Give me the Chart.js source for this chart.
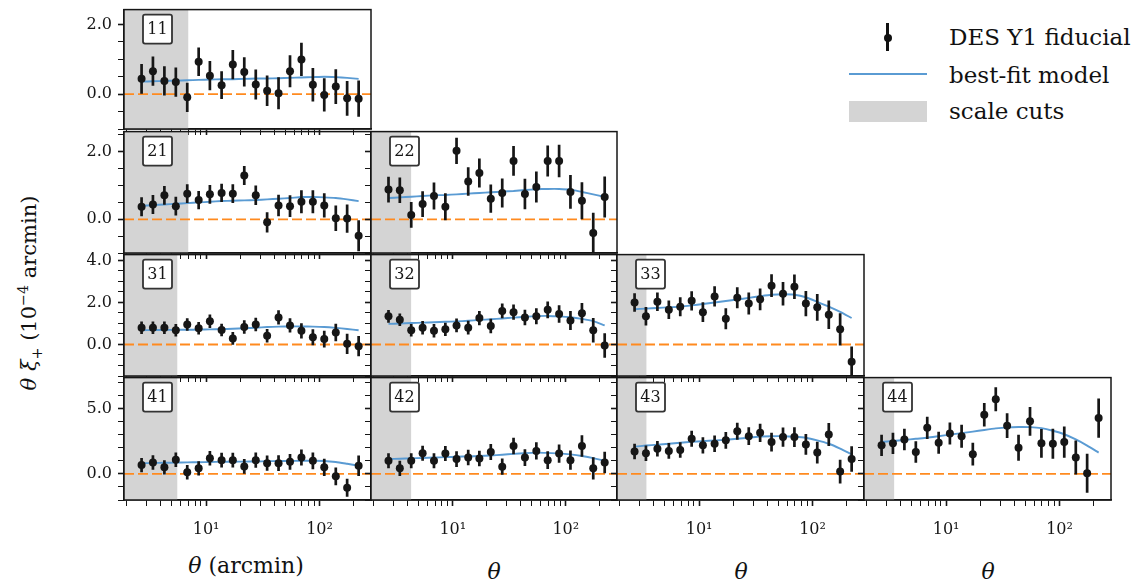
<!DOCTYPE html>
<html lang="en">
<head>
<meta charset="UTF-8">
<title>DES Y1 xi+ tomography</title>
<script src="https://cdn.jsdelivr.net/npm/chart.js"></script>
<style>
  body { margin: 0; background: #fff; }
  #fig { position: relative; width: 1138px; height: 588px; overflow: hidden; font-family: "DejaVu Serif", serif; color: #111; }
  #fig canvas { position: absolute; }
  .txt { position: absolute; white-space: nowrap; }
  .leg { font-size: 23px; height: 26px; line-height: 26px; }
  .xt { font-size: 22px; transform: translateX(-50%); }
  #ylab { font-size: 21px; left: 30px; top: 293px; transform: translate(-50%, -50%) rotate(-90deg); }
  sub, sup { font-size: 0.68em; }
</style>
</head>
<body>
<div id="fig">
  <div class="txt" style="left:886px;top:23px;width:2.8px;height:28px;background:#111"></div>
  <div class="txt" style="left:883.5px;top:34px;width:8px;height:8px;border-radius:50%;background:#111"></div>
  <div class="txt leg" style="left:949px;top:24px">DES Y1 fiducial</div>
  <div class="txt" style="left:849px;top:73px;width:78px;height:2.2px;background:#5a9bd3"></div>
  <div class="txt leg" style="left:949px;top:62px">best-fit model</div>
  <div class="txt" style="left:849px;top:101px;width:78px;height:21px;background:#d4d4d4"></div>
  <div class="txt leg" style="left:949px;top:98px">scale cuts</div>
  <div class="txt" id="ylab"><i>θ</i> <i>ξ</i><sub>+</sub> (10<sup>−4</sup> arcmin)</div>
  <div class="txt xt" style="left:246px;top:553px"><i>θ</i> (arcmin)</div>
  <div class="txt xt" style="left:494px;top:559px"><i>θ</i></div>
  <div class="txt xt" style="left:741px;top:559px"><i>θ</i></div>
  <div class="txt xt" style="left:988px;top:559px"><i>θ</i></div>
</div>
<script>
// angular bins (arcmin), same for every panel
const theta = [2.70, 3.40, 4.29, 5.41, 6.82, 8.60, 10.8, 13.7, 17.2, 21.7, 27.4, 34.5, 43.5, 54.9, 69.2, 87.3, 110, 139, 175, 221];

const xi11 = [0.44, 0.66, 0.38, 0.35, -0.09, 0.93, 0.53, 0.26, 0.85, 0.64, 0.28, 0.10, 0.03, 0.66, 1.00, 0.27, -0.02, 0.22, -0.12, -0.13];
const err11 = [0.43, 0.42, 0.42, 0.42, 0.42, 0.41, 0.42, 0.40, 0.42, 0.42, 0.43, 0.44, 0.46, 0.46, 0.48, 0.48, 0.48, 0.50, 0.50, 0.52];
const model11 = [0.36, 0.37, 0.38, 0.39, 0.40, 0.41, 0.42, 0.43, 0.43, 0.44, 0.45, 0.45, 0.46, 0.47, 0.48, 0.49, 0.50, 0.49, 0.47, 0.44];

const xi21 = [0.37, 0.44, 0.71, 0.39, 0.76, 0.57, 0.74, 0.78, 0.76, 1.30, 0.71, -0.09, 0.41, 0.39, 0.52, 0.52, 0.41, 0.03, 0.02, -0.49];
const err21 = [0.28, 0.28, 0.28, 0.28, 0.28, 0.27, 0.28, 0.27, 0.28, 0.28, 0.29, 0.30, 0.32, 0.32, 0.34, 0.34, 0.36, 0.38, 0.42, 0.46];
const model21 = [0.40, 0.42, 0.44, 0.46, 0.48, 0.50, 0.52, 0.54, 0.55, 0.56, 0.57, 0.59, 0.61, 0.63, 0.66, 0.66, 0.65, 0.63, 0.59, 0.54];

const xi22 = [0.88, 0.86, 0.13, 0.45, 0.69, 0.37, 2.03, 1.12, 1.37, 0.61, 0.78, 1.73, 0.75, 0.96, 1.73, 1.73, 0.81, 0.55, -0.41, 0.66];
const err22 = [0.38, 0.38, 0.38, 0.38, 0.40, 0.40, 0.39, 0.42, 0.43, 0.42, 0.43, 0.44, 0.45, 0.46, 0.46, 0.48, 0.50, 0.55, 0.60, 0.61];
const model22 = [0.63, 0.65, 0.67, 0.69, 0.71, 0.72, 0.74, 0.76, 0.78, 0.80, 0.82, 0.84, 0.87, 0.89, 0.90, 0.90, 0.88, 0.81, 0.74, 0.66];

const xi31 = [0.80, 0.80, 0.80, 0.68, 0.95, 0.77, 1.11, 0.69, 0.29, 0.83, 0.95, 0.42, 1.29, 0.91, 0.65, 0.34, 0.26, 0.57, 0.03, -0.08];
const err31 = [0.30, 0.30, 0.30, 0.30, 0.30, 0.30, 0.32, 0.30, 0.30, 0.32, 0.32, 0.32, 0.34, 0.34, 0.36, 0.38, 0.40, 0.42, 0.48, 0.48];
const model31 = [0.68, 0.69, 0.69, 0.70, 0.70, 0.71, 0.72, 0.73, 0.75, 0.77, 0.80, 0.83, 0.85, 0.86, 0.86, 0.85, 0.83, 0.79, 0.74, 0.68];

const xi32 = [1.34, 1.18, 0.68, 0.80, 0.65, 0.72, 0.91, 0.80, 1.26, 0.88, 1.60, 1.54, 1.29, 1.34, 1.65, 1.45, 1.14, 1.49, 0.68, -0.05];
const err32 = [0.30, 0.30, 0.30, 0.32, 0.32, 0.32, 0.33, 0.33, 0.34, 0.34, 0.35, 0.36, 0.37, 0.38, 0.40, 0.42, 0.45, 0.48, 0.58, 0.58];
const model32 = [0.98, 1.00, 1.02, 1.04, 1.06, 1.08, 1.10, 1.13, 1.17, 1.20, 1.24, 1.28, 1.32, 1.35, 1.36, 1.34, 1.30, 1.22, 1.11, 0.91];

const xi33 = [2.00, 1.34, 2.03, 1.65, 1.80, 2.08, 1.54, 2.29, 1.22, 2.23, 1.95, 2.15, 2.80, 2.42, 2.75, 1.95, 1.77, 1.42, 0.72, -0.82];
const err33 = [0.44, 0.44, 0.44, 0.44, 0.45, 0.46, 0.47, 0.48, 0.50, 0.50, 0.52, 0.52, 0.54, 0.56, 0.58, 0.60, 0.64, 0.68, 0.77, 0.73];
const model33 = [1.68, 1.71, 1.74, 1.77, 1.80, 1.86, 1.93, 2.00, 2.07, 2.14, 2.22, 2.30, 2.37, 2.39, 2.37, 2.25, 2.03, 1.80, 1.55, 1.26];

const xi41 = [0.68, 0.88, 0.51, 1.09, 0.13, 0.43, 1.21, 1.06, 1.06, 0.58, 1.06, 0.83, 0.83, 0.93, 1.26, 1.01, 0.51, -0.18, -1.06, 0.63];
const err41 = [0.55, 0.55, 0.55, 0.55, 0.55, 0.55, 0.56, 0.56, 0.57, 0.57, 0.58, 0.58, 0.60, 0.60, 0.62, 0.64, 0.66, 0.68, 0.70, 0.78];
const model41 = [0.83, 0.84, 0.86, 0.87, 0.89, 0.90, 0.92, 0.93, 0.94, 0.95, 0.96, 0.98, 0.99, 1.00, 1.01, 1.01, 1.00, 0.92, 0.78, 0.63];

const xi42 = [1.01, 0.43, 1.01, 1.59, 1.01, 1.57, 1.14, 1.26, 1.19, 1.69, 0.56, 2.15, 1.26, 1.77, 1.06, 1.57, 1.06, 2.15, 0.43, 0.88];
const err42 = [0.58, 0.58, 0.58, 0.58, 0.58, 0.58, 0.60, 0.60, 0.60, 0.62, 0.62, 0.64, 0.64, 0.66, 0.68, 0.70, 0.74, 0.82, 0.85, 0.82];
const model42 = [1.14, 1.17, 1.20, 1.23, 1.26, 1.29, 1.32, 1.35, 1.38, 1.42, 1.48, 1.54, 1.60, 1.64, 1.62, 1.58, 1.50, 1.38, 1.22, 1.01];

const xi43 = [1.72, 1.59, 1.94, 1.77, 1.84, 2.70, 2.20, 2.32, 2.58, 3.28, 2.90, 3.16, 2.45, 2.83, 2.83, 2.27, 1.64, 3.03, 0.18, 1.14];
const err43 = [0.60, 0.60, 0.60, 0.60, 0.60, 0.62, 0.62, 0.64, 0.64, 0.66, 0.68, 0.70, 0.72, 0.74, 0.76, 0.80, 0.84, 0.88, 0.92, 0.98];
const model43 = [2.10, 2.18, 2.25, 2.32, 2.40, 2.46, 2.52, 2.57, 2.63, 2.70, 2.78, 2.88, 2.90, 2.90, 2.86, 2.78, 2.58, 2.32, 1.95, 1.52];

const xi44 = [2.20, 2.35, 2.65, 1.69, 3.54, 2.40, 3.11, 2.90, 1.52, 4.55, 5.73, 3.71, 2.02, 4.04, 2.35, 2.32, 2.45, 1.26, 0.05, 4.29];
const err44 = [0.82, 0.82, 0.82, 0.82, 0.85, 0.85, 0.85, 0.88, 0.88, 0.90, 0.92, 0.95, 1.00, 1.10, 1.10, 1.15, 1.20, 1.30, 1.50, 1.50];
const model44 = [2.45, 2.53, 2.61, 2.70, 2.78, 2.90, 3.02, 3.14, 3.25, 3.38, 3.50, 3.58, 3.61, 3.60, 3.52, 3.32, 3.05, 2.65, 2.18, 1.64];

// upper end of the grey scale-cut band in each panel (arcmin)
const panelIds = ['11', '21', '22', '31', '32', '33', '41', '42', '43', '44'];
const scaleCuts = [7.0, 7.0, 4.3, 5.6, 4.3, 3.45, 5.6, 4.3, 3.45, 3.5];

// axes
const X_MIN = 1.89, X_MAX = 284;
const xTickValues = [2, 3, 4, 5, 6, 7, 8, 9, 10, 20, 30, 40, 50, 60, 70, 80, 90, 100, 200];
const xMajorValues = [10, 100];
const xMajorLabels = ['10¹', '10²'];

const rowYMin = [-1.0, -1.0, -1.5, -2.0];
const rowYMax = [2.43, 2.6, 4.28, 7.4];
const rowYTicks = [
  [-1, -0.5, 0, 0.5, 1, 1.5, 2],
  [-1, -0.5, 0, 0.5, 1, 1.5, 2, 2.5],
  [-1.5, -1, -0.5, 0, 0.5, 1, 1.5, 2, 2.5, 3, 3.5, 4],
  [-2, -1, 0, 1, 2, 3, 4, 5, 6, 7]
];
const rowYLabelled = [[0, 2], [0, 2], [0, 2, 4], [0, 5]];

const seriesById = {
  '11': [xi11, err11, model11], '21': [xi21, err21, model21], '22': [xi22, err22, model22],
  '31': [xi31, err31, model31], '32': [xi32, err32, model32], '33': [xi33, err33, model33],
  '41': [xi41, err41, model41], '42': [xi42, err42, model42], '43': [xi43, err43, model43],
  '44': [xi44, err44, model44]
};

// page layout of the panel frames
const colLeft = [124, 371, 617, 864];
const colWidth = [247, 246, 247, 247];
const rowTop = [8, 130, 253, 376];
const rowHeight = [121, 123, 123, 124];
const PAD_L = 50, PAD_B = 45, PAD_T = 14, PAD_R = 14;

const INK = '#161616';
const BLUE = '#5a9bd3';
const ORANGE = '#ff8a1f';
const GREY = '#d4d4d4';
const tickFont = { family: 'DejaVu Serif', size: 16 };

const panelFrame = {
  id: 'panelFrame',
  afterDraw(chart, args, opts) {
    const { ctx, chartArea: a } = chart;
    ctx.save();
    ctx.strokeStyle = INK;
    ctx.lineWidth = 1.5;
    ctx.strokeRect(a.left, a.top, a.right - a.left, a.bottom - a.top);
    const bx = a.left + 19, by = a.top + 5, bs = 29;
    ctx.fillStyle = '#fff';
    ctx.beginPath();
    ctx.roundRect(bx, by, bs, bs, 2);
    ctx.fill();
    ctx.lineWidth = 1.8;
    ctx.strokeStyle = '#333';
    ctx.stroke();
    ctx.fillStyle = INK;
    ctx.font = '16px "DejaVu Serif"';
    ctx.textAlign = 'center';
    ctx.textBaseline = 'middle';
    ctx.fillText(opts.label, bx + bs / 2, by + bs / 2 + 1);
    ctx.restore();
  }
};

const fig = document.getElementById('fig');

panelIds.forEach((id, k) => {
  const row = Number(id[0]) - 1;
  const col = Number(id[1]) - 1;
  const [xi, err, model] = seriesById[id];
  const yMin = rowYMin[row], yMax = rowYMax[row];

  const canvas = document.createElement('canvas');
  canvas.width = PAD_L + colWidth[col] + PAD_R;
  canvas.height = PAD_T + rowHeight[row] + PAD_B;
  canvas.style.left = (colLeft[col] - PAD_L) + 'px';
  canvas.style.top = (rowTop[row] - PAD_T) + 'px';
  fig.appendChild(canvas);

  const errorBars = [];
  theta.forEach((t, i) => {
    errorBars.push({ x: t, y: xi[i] - err[i] }, { x: t, y: xi[i] + err[i] }, { x: t, y: null });
  });

  new Chart(canvas, {
    type: 'scatter',
    data: {
      datasets: [
        {
          type: 'line', order: 10,
          data: [{ x: X_MIN, y: yMax }, { x: scaleCuts[k], y: yMax }],
          fill: 'start', backgroundColor: GREY, borderWidth: 0, pointRadius: 0
        },
        {
          type: 'line', order: 5,
          data: [{ x: X_MIN, y: 0 }, { x: X_MAX, y: 0 }],
          borderColor: ORANGE, borderWidth: 1.8, borderDash: [10, 4], pointRadius: 0
        },
        {
          type: 'line', order: 3,
          data: theta.map((t, i) => ({ x: t, y: model[i] })),
          borderColor: BLUE, borderWidth: 1.9, pointRadius: 0, tension: 0.2
        },
        {
          type: 'line', order: 2,
          data: errorBars, spanGaps: false,
          borderColor: INK, borderWidth: 2.7, pointRadius: 0
        },
        {
          type: 'scatter', order: 1,
          data: theta.map((t, i) => ({ x: t, y: xi[i] })),
          backgroundColor: INK, borderWidth: 0, pointRadius: 4
        }
      ]
    },
    options: {
      responsive: false,
      animation: false,
      events: [],
      layout: { padding: { top: PAD_T, right: PAD_R, left: 0, bottom: 0 } },
      plugins: { legend: { display: false }, tooltip: { enabled: false }, panelFrame: { label: id } },
      scales: {
        x: {
          type: 'logarithmic', min: X_MIN, max: X_MAX,
          afterBuildTicks: s => { s.ticks = xTickValues.map(v => ({ value: v })); },
          afterFit: s => { s.height = PAD_B; },
          ticks: {
            autoSkip: false, maxRotation: 0, padding: 14, color: INK, font: tickFont,
            callback: v => (row === 3 && xMajorValues.includes(v)) ? xMajorLabels[xMajorValues.indexOf(v)] : ''
          },
          grid: { drawOnChartArea: false, tickLength: 6, tickColor: INK,
                  tickWidth: c => xMajorValues.includes(c.tick && c.tick.value) ? 1.6 : 1 },
          border: { display: true, color: INK, width: 1.5 }
        },
        y: {
          type: 'linear', min: yMin, max: yMax,
          afterBuildTicks: s => { s.ticks = rowYTicks[row].map(v => ({ value: v })); },
          afterFit: s => { s.width = PAD_L; },
          ticks: {
            autoSkip: false, padding: 6, color: INK, font: tickFont,
            callback: v => (col === 0 && rowYLabelled[row].includes(v)) ? v.toFixed(1) : ''
          },
          grid: { drawOnChartArea: false, tickLength: 6, tickColor: INK,
                  tickWidth: c => rowYLabelled[row].includes(c.tick && c.tick.value) ? 1.6 : 1 },
          border: { display: true, color: INK, width: 1.5 }
        }
      }
    },
    plugins: [panelFrame]
  });
});
</script>
</body>
</html>
